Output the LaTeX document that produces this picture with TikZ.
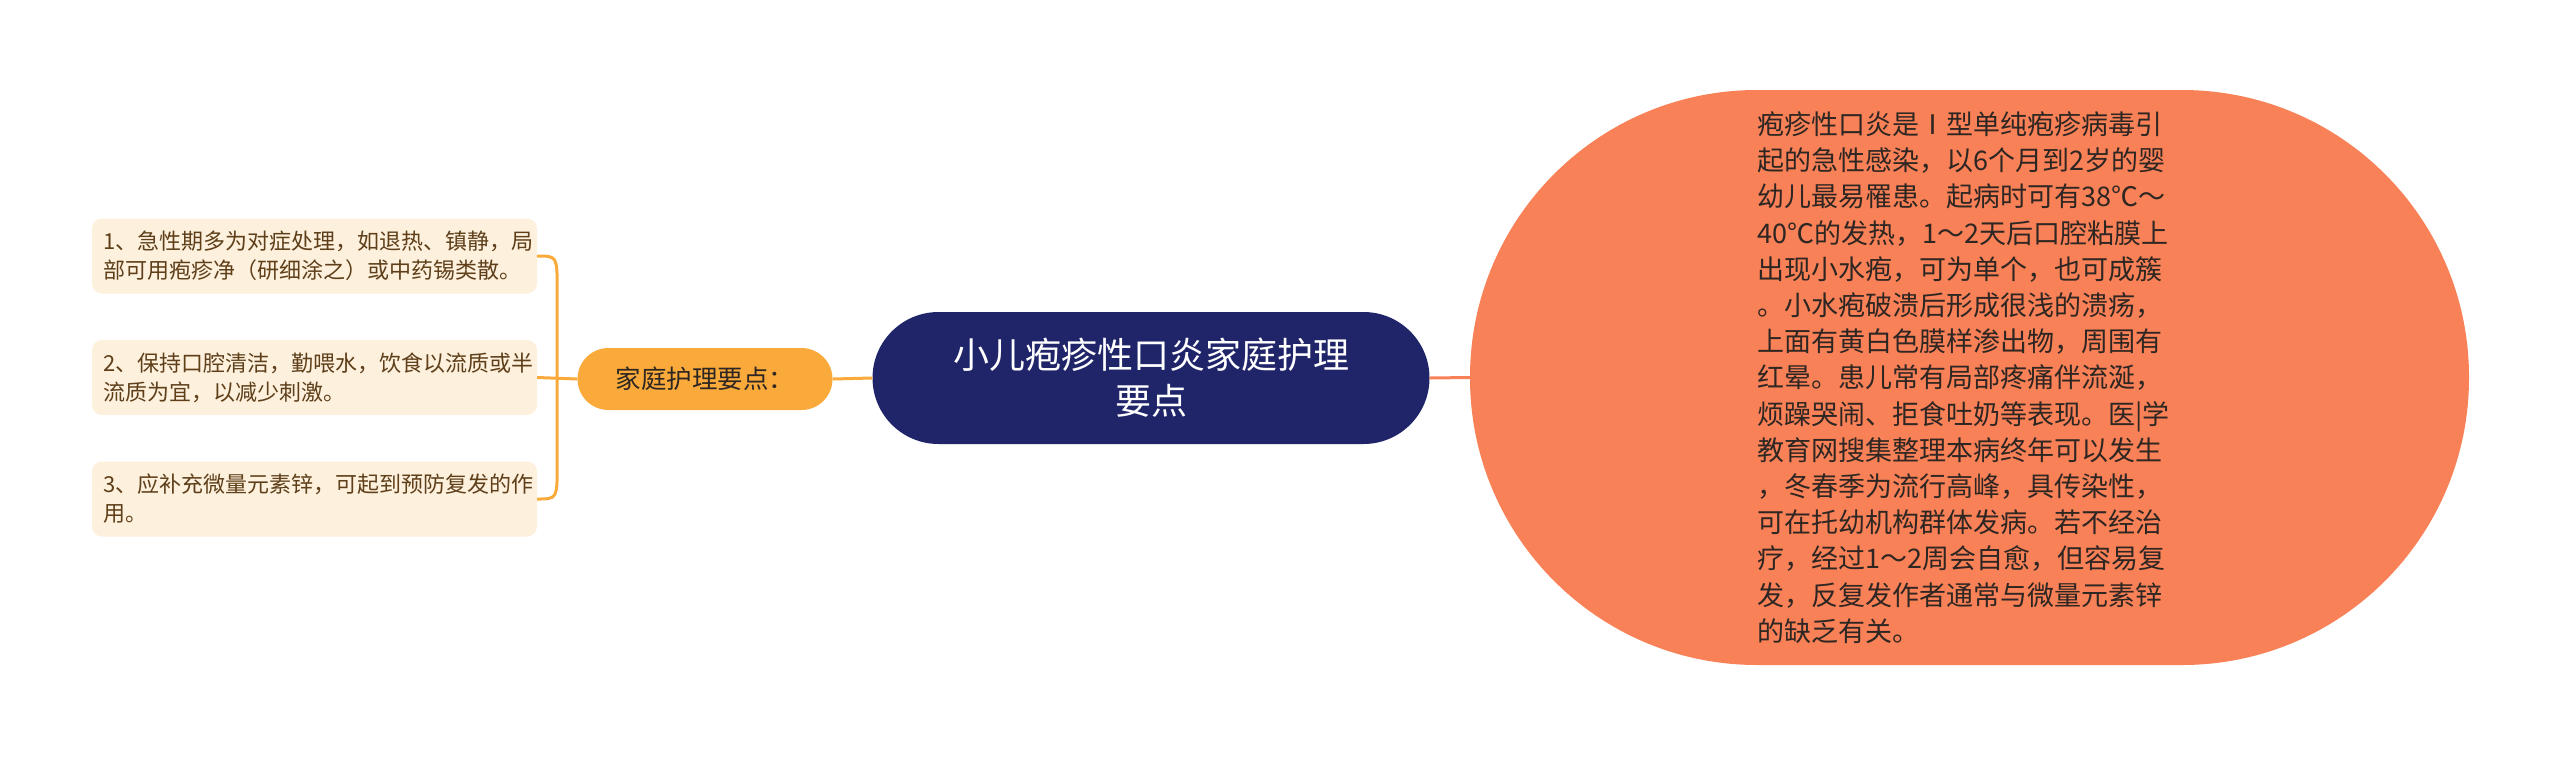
\documentclass[tikz,border=0pt]{standalone}
\usepackage{fontspec}
\setmainfont{Noto Sans CJK SC}
\usepackage{tikz}
\usetikzlibrary{calc}
\definecolor{navy}{HTML}{20256A}
\definecolor{amber}{HTML}{F9AA3B}
\definecolor{salmon}{HTML}{F88157}
\definecolor{cream}{HTML}{FDF0DC}
\definecolor{brown}{HTML}{5E3F1A}
\definecolor{ink}{HTML}{2E2622}
\tikzset{
  rootnode/.style={fill=navy, text=white, rounded corners=66pt, minimum width=557pt, minimum height=132pt, inner sep=0pt, align=center, font=\fontsize{36}{46}\selectfont},
  midnode/.style={fill=amber, text=ink, rounded corners=31pt, minimum width=255pt, minimum height=62pt, inner sep=0pt, font=\fontsize{25.5}{30}\selectfont},
  leaf/.style={fill=cream, text=brown, rounded corners=10pt, minimum width=445pt, minimum height=75pt, inner sep=0pt, text width=423pt, align=left, font=\fontsize{22}{29}\selectfont},
  bignode/.style={fill=salmon, text=ink, rounded corners=287pt, minimum width=999pt, minimum height=575pt, inner sep=0pt, text width=424pt, align=left, font=\fontsize{27}{36.2}\selectfont},
  amberline/.style={draw=amber, line width=3pt},
  salmonline/.style={draw=salmon, line width=3pt},
}

\begin{document}
\begin{tikzpicture}[x=1pt, y=-1pt]
  \useasboundingbox (0,0) rectangle (2560,756);

  \node[rootnode] (root) at (1151,378) {小儿疱疹性口炎家庭护理\\要点};
  \node[midnode] (fam) at (705,379) {家庭护理要点：};

  \node[leaf] (b1) at (314.5,256) {1、急性期多为对症处理，如退热、镇静，局\\部可用疱疹净（研细涂之）或中药锡类散。};
  \node[leaf] (b2) at (314.5,377.5) {2、保持口腔清洁，勤喂水，饮食以流质或半\\流质为宜，以减少刺激。};
  \node[leaf] (b3) at (314.5,499) {3、应补充微量元素锌，可起到预防复发的作\\用。};

  \node[bignode] (det) at (1969.5,377.5) {疱疹性口炎是Ⅰ型单纯疱疹病毒引\\起的急性感染，以6个月到2岁的婴\\幼儿最易罹患。起病时可有38℃～\\40℃的发热，1～2天后口腔粘膜上\\出现小水疱，可为单个，也可成簇\\。小水疱破溃后形成很浅的溃疡，\\上面有黄白色膜样渗出物，周围有\\红晕。患儿常有局部疼痛伴流涎，\\烦躁哭闹、拒食吐奶等表现。医|学\\教育网搜集整理本病终年可以发生\\，冬春季为流行高峰，具传染性，\\可在托幼机构群体发病。若不经治\\疗，经过1～2周会自愈，但容易复\\发，反复发作者通常与微量元素锌\\的缺乏有关。};

  \draw[amberline] (fam.east) -- (root.west);
  \draw[salmonline] (root.east) -- (det.west);

  % bracket to the three items
  \draw[amberline] (fam.west) -- (b2.east);
  \draw[amberline] (b1.east) .. controls ($(b1.east)+(20,0)$) .. ($(b1.east)+(20,35)$)
    -- ($(b3.east)+(20,-35)$) .. controls ($(b3.east)+(20,0)$) .. (b3.east);
\end{tikzpicture}
\end{document}
